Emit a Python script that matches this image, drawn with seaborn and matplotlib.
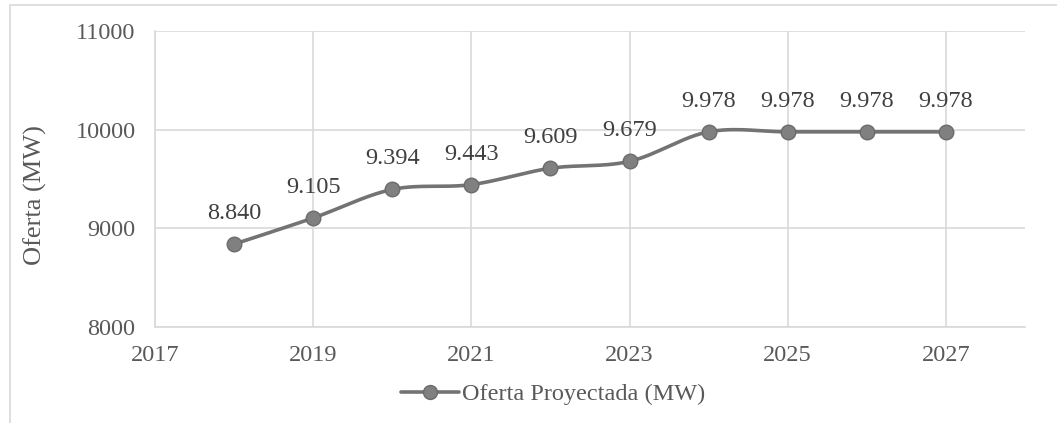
import numpy as np
import pandas as pd
import matplotlib
matplotlib.use("Agg")
import matplotlib.pyplot as plt
import seaborn as sns
from matplotlib.patches import Rectangle
from matplotlib.lines import Line2D

# datos
anios = [2018, 2019, 2020, 2021, 2022, 2023, 2024, 2025, 2026, 2027]
oferta = [8840, 9105, 9394, 9443, 9609, 9679, 9978, 9978, 9978, 9978]
etiquetas = ["8.840", "9.105", "9.394", "9.443", "9.609", "9.679",
             "9.978", "9.978", "9.978", "9.978"]

df = pd.DataFrame({"anio": anios, "oferta": oferta})

sns.set_theme(style="white")
plt.rcParams["font.family"] = ["Liberation Serif", "DejaVu Serif"]

texto = "#595959"
linea = "#737373"

fig = plt.figure(figsize=(10.57, 4.23), dpi=100)
ax = fig.add_axes([155 / 1057, 1 - 327 / 423, 870 / 1057, 296 / 423])

# curva suavizada tipo Excel (Bezier con puntos de control Catmull-Rom)
x = np.array(anios, dtype=float)
y = np.array(oferta, dtype=float)
cx, cy = [], []
t = np.linspace(0, 1, 30)
for i in range(len(x) - 1):
    i0 = max(i - 1, 0)
    i3 = min(i + 2, len(x) - 1)
    p0 = np.array([x[i], y[i]])
    p3 = np.array([x[i + 1], y[i + 1]])
    p1 = p0 + (p3 - np.array([x[i0], y[i0]])) / 6
    p2 = p3 - (np.array([x[i3], y[i3]]) - p0) / 6
    for tt in t:
        b = ((1 - tt) ** 3) * p0 + 3 * ((1 - tt) ** 2) * tt * p1 + 3 * (1 - tt) * tt ** 2 * p2 + tt ** 3 * p3
        cx.append(b[0])
        cy.append(b[1])
ax.plot(cx, cy, color=linea, lw=2.6, solid_capstyle="round", zorder=3)

sns.scatterplot(data=df, x="anio", y="oferta", ax=ax, s=110, color="#808080",
                edgecolor="#6b6b6b", linewidth=1.0, zorder=4, legend=False)

for xi, yi, lab in zip(anios, oferta, etiquetas):
    ax.annotate(lab, (xi, yi), xytext=(0, 22), textcoords="offset points",
                ha="center", va="center", fontsize=17.5, color="#404040")

ax.set_xlim(2017, 2028)
ax.set_ylim(8000, 11000)
ax.set_xticks([2017, 2019, 2021, 2023, 2025, 2027])
ax.set_yticks([8000, 9000, 10000, 11000])
ax.grid(True, color="#d9d9d9", lw=1.2)
ax.set_axisbelow(True)
for s in ["top", "right"]:
    ax.spines[s].set_visible(False)
ax.spines["left"].set_color("#d9d9d9")
ax.spines["bottom"].set_color("#d9d9d9")
ax.spines["left"].set_linewidth(1.2)
ax.spines["bottom"].set_linewidth(1.2)
ax.tick_params(axis="both", length=0, labelsize=17.5, labelcolor=texto)
ax.tick_params(axis="x", pad=13)
ax.tick_params(axis="y", pad=14)
ax.set_xlabel("")
ax.set_ylabel("")
fig.text(35 / 1057, 1 - 195 / 423, "Oferta (MW)", rotation=90, ha="center", va="center",
         fontsize=19, color=texto)

# leyenda
h = Line2D([], [], color=linea, lw=2.6, marker="o", markersize=10,
           markerfacecolor="#808080", markeredgecolor="#6b6b6b")
fig.legend([h], ["Oferta Proyectada (MW)"], loc="center", bbox_to_anchor=(0.523, 0.068),
           frameon=False, fontsize=17.5, labelcolor=texto, handlelength=2.4,
           handletextpad=0.1)

# borde del gráfico
fig.patches.append(Rectangle((10 / 1057, -0.1), 1.2, 1 - 5 / 423 + 0.1, transform=fig.transFigure,
                             fill=False, edgecolor="#d9d9d9", lw=1.2))

fig.savefig("out.png", dpi=100)
